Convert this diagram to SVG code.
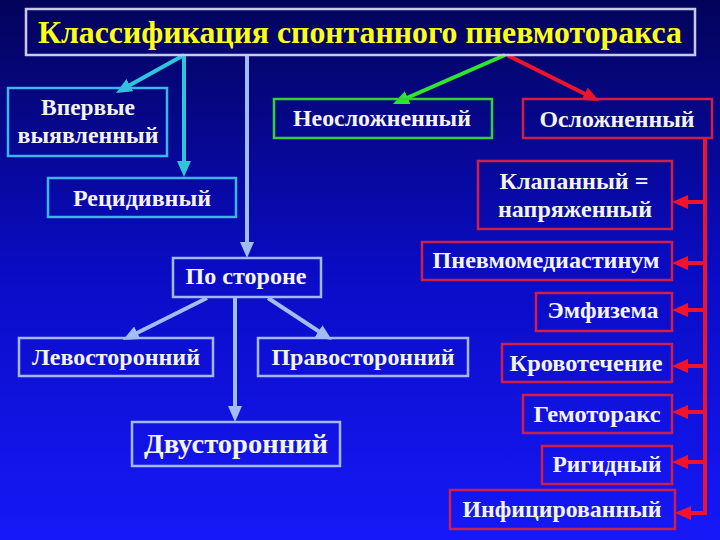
<svg xmlns="http://www.w3.org/2000/svg" width="720" height="540" viewBox="0 0 720 540">
<defs>
<linearGradient id="bg" x1="0" y1="0" x2="0" y2="1">
<stop offset="0" stop-color="#03035a"/>
<stop offset="0.5" stop-color="#0a0cc4"/>
<stop offset="1" stop-color="#1618f8"/>
</linearGradient>
<marker id="mCyan" viewBox="0 0 16 14" refX="6" refY="7" markerWidth="16" markerHeight="14" markerUnits="userSpaceOnUse" orient="auto"><path d="M0,0 L16,7 L0,14 z" fill="#2ec4dc"/></marker>
<marker id="mLight" viewBox="0 0 16 14" refX="6" refY="7" markerWidth="16" markerHeight="14" markerUnits="userSpaceOnUse" orient="auto"><path d="M0,0 L16,7 L0,14 z" fill="#a4bcf4"/></marker>
<marker id="mGreen" viewBox="0 0 16 14" refX="6" refY="7" markerWidth="16" markerHeight="14" markerUnits="userSpaceOnUse" orient="auto"><path d="M0,0 L16,7 L0,14 z" fill="#2ee62e"/></marker>
<marker id="mRed" viewBox="0 0 16 14" refX="6" refY="7" markerWidth="16" markerHeight="14" markerUnits="userSpaceOnUse" orient="auto"><path d="M0,0 L16,7 L0,14 z" fill="#f0142a"/></marker>
</defs>
<style>
text{font-family:"Liberation Serif","Times New Roman",serif;font-weight:bold;fill:#f4f4f4;text-anchor:middle;font-size:23px}
.title{fill:#ffff14;font-size:31px}
.big{font-size:28px}
rect{fill:none;stroke-width:2.5}
.tb{stroke:#c8c8f0}
.cy{stroke:#3cb4ec}
.lb{stroke:#a4b8f0}
.gr{stroke:#32d232}
.rd{stroke:#d01e46}
.c{fill:none;stroke-width:4}
.cc{stroke:#2ec4dc;marker-end:url(#mCyan)}
.cl{stroke:#a4bcf4;marker-end:url(#mLight)}
.cg{stroke:#2ee62e;marker-end:url(#mGreen)}
.cr{stroke:#f0142a;marker-end:url(#mRed)}
</style>
<rect x="0" y="0" width="720" height="540" style="fill:url(#bg);stroke:none"/>
<g id="connectors">
<path class="c cc" d="M184,55 L124.7,88.1"/>
<path class="c cc" d="M184,55 L184,167"/>
<path class="c cl" d="M247,55 L247,248"/>
<path class="c cg" d="M505,55 L402.2,100"/>
<path class="c cr" d="M507,55 L590.1,96.5"/>
<path class="c" style="stroke:#f0142a" d="M705,138 L705,515"/>
<path class="c cr" d="M707,202 L682,202"/>
<path class="c cr" d="M707,263 L682,263"/>
<path class="c cr" d="M707,310 L682,310"/>
<path class="c cr" d="M707,366 L682,366"/>
<path class="c cr" d="M707,412 L682,412"/>
<path class="c cr" d="M707,462 L682,462"/>
<path class="c cr" d="M707,513 L685,513"/>
<path class="c cl" d="M207,298 L131.9,335.5"/>
<path class="c cl" d="M268,298 L323.6,334.5"/>
<path class="c cl" d="M235,298 L235,412"/>
</g>
<g id="title"><rect class="tb" x="26" y="9" width="669" height="46"/><text class="title" x="360" y="43" textLength="644" lengthAdjust="spacingAndGlyphs">Классификация спонтанного пневмоторакса</text></g>
<g id="vpervye"><rect class="cy" x="8" y="88" width="159" height="68"/><text x="88" y="115" textLength="94" lengthAdjust="spacingAndGlyphs">Впервые</text><text x="88" y="143" textLength="141" lengthAdjust="spacingAndGlyphs">выявленный</text></g>
<g id="recidiv"><rect class="cy" x="48" y="178" width="188" height="39"/><text x="142" y="206" textLength="138" lengthAdjust="spacingAndGlyphs">Рецидивный</text></g>
<g id="neoslozh"><rect class="gr" x="274" y="99" width="218" height="39"/><text x="382" y="126" textLength="178" lengthAdjust="spacingAndGlyphs">Неосложненный</text></g>
<g id="oslozh"><rect class="rd" x="523" y="99" width="189" height="39"/><text x="617" y="127" textLength="155" lengthAdjust="spacingAndGlyphs">Осложненный</text></g>
<g id="klapan"><rect class="rd" x="478" y="161" width="194" height="68"/><text x="574" y="189" textLength="149" lengthAdjust="spacingAndGlyphs">Клапанный =</text><text x="575" y="217" textLength="154" lengthAdjust="spacingAndGlyphs">напряженный</text></g>
<g id="pnevmomed"><rect class="rd" x="422" y="242" width="250" height="38"/><text x="546" y="268" textLength="227" lengthAdjust="spacingAndGlyphs">Пневмомедиастинум</text></g>
<g id="emfizema"><rect class="rd" x="536" y="293" width="136" height="38"/><text x="603" y="318" textLength="111" lengthAdjust="spacingAndGlyphs">Эмфизема</text></g>
<g id="krovotech"><rect class="rd" x="502" y="344" width="170" height="38"/><text x="586" y="371" textLength="153" lengthAdjust="spacingAndGlyphs">Кровотечение</text></g>
<g id="gemotorax"><rect class="rd" x="523" y="395" width="149" height="38"/><text x="597" y="422" textLength="127" lengthAdjust="spacingAndGlyphs">Гемоторакс</text></g>
<g id="rigid"><rect class="rd" x="542" y="446" width="130" height="38"/><text x="607" y="472" textLength="109" lengthAdjust="spacingAndGlyphs">Ригидный</text></g>
<g id="infic"><rect class="rd" x="450" y="490" width="225" height="39"/><text x="562" y="517" textLength="199" lengthAdjust="spacingAndGlyphs">Инфицированный</text></g>
<g id="postorone"><rect class="lb" x="173" y="258" width="148" height="39"/><text x="246" y="284" textLength="121" lengthAdjust="spacingAndGlyphs">По стороне</text></g>
<g id="levo"><rect class="lb" x="19" y="338" width="194" height="38"/><text x="116" y="365" textLength="168" lengthAdjust="spacingAndGlyphs">Левосторонний</text></g>
<g id="pravo"><rect class="lb" x="258" y="338" width="210" height="38"/><text x="363" y="365" textLength="183" lengthAdjust="spacingAndGlyphs">Правосторонний</text></g>
<g id="dvusto"><rect class="lb" x="132" y="422" width="208" height="44"/><text class="big" x="236" y="453" textLength="184" lengthAdjust="spacingAndGlyphs">Двусторонний</text></g>
</svg>
